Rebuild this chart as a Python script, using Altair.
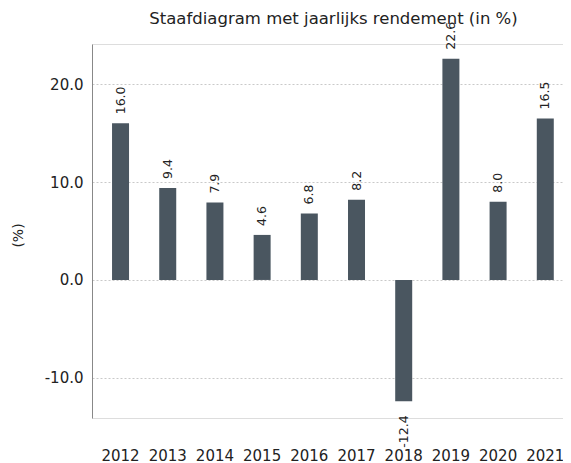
import altair as alt
import pandas as pd

years = ["2012", "2013", "2014", "2015", "2016", "2017", "2018", "2019", "2020", "2021"]
returns = [16.0, 9.4, 7.9, 4.6, 6.8, 8.2, -12.4, 22.6, 8.0, 16.5]

df = pd.DataFrame({"year": years, "ret": returns})

FONT = "DejaVu Sans"
x = alt.X("year:N", sort=years, title=None,
          scale=alt.Scale(paddingInner=0.64, paddingOuter=0.31, align=0.685),
          axis=alt.Axis(labelAngle=0, ticks=False, domain=False, labelPadding=30,
                        labelFontSize=15, labelColor="#222", labelFont=FONT))
y = alt.Y("ret:Q", title="(%)",
          scale=alt.Scale(domain=[-14.1, 24.1], nice=False, zero=False),
          axis=alt.Axis(values=[-10, 0, 10, 20], format=".1f", ticks=False,
                        labelExpr="replace(datum.label, '\u2212', '-')",
                        domainColor="#888", domainWidth=1,
                        grid=True, gridColor="#bbbbbb", gridDash=[2, 2], gridWidth=0.8,
                        labelFontSize=15, labelColor="#222", labelFont=FONT, labelPadding=9,
                        titleFontSize=14, titleFontWeight="normal", titleColor="#222",
                        titleFont=FONT, titleAngle=270, titleX=-74, titleY=191,
                        titleAlign="center", titleBaseline="middle"))

bars = alt.Chart(df).mark_bar(color="#4a5660", size=17).encode(x=x, y=y)

base = alt.Chart(df).transform_calculate(
    lbl="replace(format(datum.ret, '.1f'), '\u2212', '-')")

pos = base.transform_filter("datum.ret >= 0").mark_text(
    angle=270, align="left", baseline="middle", dx=9, fontSize=12.5, font=FONT, color="#222"
).encode(x=alt.X("year:N", sort=years), y="ret:Q", text="lbl:N")

neg = base.transform_filter("datum.ret < 0").mark_text(
    angle=270, align="right", baseline="middle", dx=-14, fontSize=12.5, font=FONT, color="#222"
).encode(x=alt.X("year:N", sort=years), y="ret:Q", text="lbl:N")

chart = alt.layer(bars, pos, neg).properties(
    width=471, height=374,
    title=alt.TitleParams("Staafdiagram met jaarlijks rendement (in %)", fontSize=16.5,
                          fontWeight="normal", font=FONT, color="#222", offset=-6,
                          dx=6, frame="group"),
    autosize=alt.AutoSizeParams(type="none"),
    padding={"left": 84, "top": 36, "right": 0, "bottom": 49},
).configure_view(stroke=None).configure(background="white")

chart.save("out.html", embed_options={"renderer": "svg", "actions": False})
